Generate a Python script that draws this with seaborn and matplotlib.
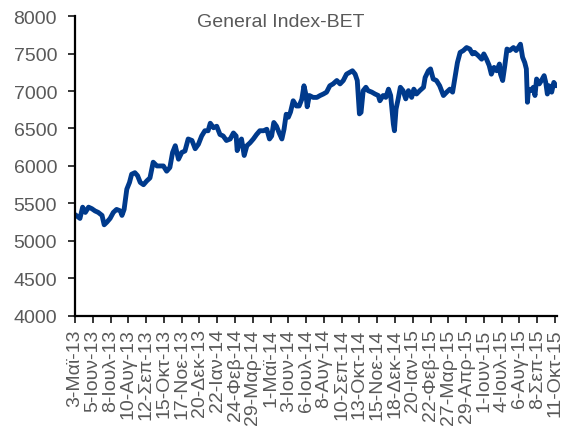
import matplotlib
matplotlib.use("Agg")
import matplotlib.pyplot as plt
import seaborn as sns
import pandas as pd

# BET index, values (days counted from 3 May 2013)
start_date = "2013-05-03"
days = [0, 2, 9, 14, 19, 25, 31, 37, 43, 50, 54, 59, 65, 71, 77, 84, 87, 91, 96,
        101, 105, 111, 116, 121, 127, 133, 139, 145, 152, 158, 164, 170, 176, 181,
        186, 192, 198, 204, 210, 217, 223, 229, 235, 241, 247, 251, 257, 263, 269,
        275, 281, 288, 294, 299, 301, 305, 309, 314, 319, 325, 331, 337, 343, 350,
        356, 361, 365, 369, 374, 379, 384, 388, 392, 396, 400, 405, 411, 416, 421,
        425, 429, 431, 435, 442, 449, 455, 461, 467, 473, 479, 486, 492, 498, 504,
        510, 515, 520, 524, 528, 531, 535, 540, 544, 551, 557, 563, 566, 572, 577,
        582, 586, 591, 593, 596, 600, 604, 609, 614, 619, 625, 629, 634, 640, 647,
        650, 656, 660, 665, 671, 677, 684, 690, 696, 701, 705, 710, 715, 721, 727,
        733, 738, 742, 749, 755, 759, 764, 769, 773, 778, 783, 788, 790, 794, 798,
        802, 807, 814, 819, 823, 827, 831, 835, 838, 840, 842, 846, 851, 854, 857,
        862, 866, 871, 874, 877, 880, 885, 889, 893]
bet = [5350, 5340, 5300, 5450, 5380, 5450, 5430, 5400, 5380, 5340, 5215, 5250,
       5300, 5380, 5420, 5400, 5340, 5420, 5690, 5780, 5890, 5910, 5870, 5780,
       5750, 5800, 5840, 6050, 6000, 6000, 6000, 5930, 5980, 6180, 6270, 6090,
       6180, 6200, 6360, 6340, 6230, 6290, 6400, 6470, 6470, 6570, 6510, 6530,
       6420, 6400, 6340, 6360, 6440, 6400, 6205, 6310, 6360, 6140, 6270, 6310,
       6360, 6420, 6470, 6470, 6490, 6360, 6400, 6580, 6530, 6440, 6360, 6490,
       6690, 6650, 6720, 6870, 6800, 6800, 6890, 7070, 6940, 6790, 6940, 6915,
       6915, 6940, 6960, 6985, 7070, 7095, 7140, 7095, 7140, 7225, 7250, 7270,
       7225, 7140, 6695, 6715, 7005, 7050, 7005, 6985, 6960, 6940, 6870, 6940,
       6915, 7025, 6940, 6560, 6470, 6760, 6895, 7050, 7005, 6895, 7005, 6915,
       7025, 6960, 7005, 7050, 7180, 7270, 7295, 7160, 7140, 7070, 6940, 6985,
       7025, 6985, 7160, 7380, 7515, 7540, 7580, 7560, 7495, 7515, 7470, 7425,
       7495, 7425, 7340, 7225, 7315, 7270, 7360, 7225, 7140, 7340, 7560, 7540,
       7580, 7540, 7580, 7625, 7450, 7380, 7295, 6850, 7025, 7005, 7050, 6940,
       7160, 7095, 7140, 7205, 7115, 6960, 7070, 6985, 7115, 7070]

tick_labels = ["3-Μαϊ-13", "5-Ιουν-13", "8-Ιουλ-13", "10-Αυγ-13", "12-Σεπ-13",
               "15-Οκτ-13", "17-Νοε-13", "20-Δεκ-13", "22-Ιαν-14", "24-Φεβ-14",
               "29-Μαρ-14", "1-Μαϊ-14", "3-Ιουν-14", "6-Ιουλ-14", "8-Αυγ-14",
               "10-Σεπ-14", "13-Οκτ-14", "15-Νοε-14", "18-Δεκ-14", "20-Ιαν-15",
               "22-Φεβ-15", "27-Μαρ-15", "29-Απρ-15", "1-Ιουν-15", "4-Ιουλ-15",
               "6-Αυγ-15", "8-Σεπ-15", "11-Οκτ-15"]
tick_step_days = 33

t0 = pd.Timestamp(start_date)
df = pd.DataFrame({"date": t0 + pd.to_timedelta(days, unit="D"), "BET": bet})

sns.set_style("ticks")
plt.rcParams['font.family'] = ['Liberation Sans', 'DejaVu Sans']

gray = "#595959"
fig = plt.figure(figsize=(5.69, 4.27), dpi=100)
ax = fig.add_axes([0.132, 0.258, 0.847, 0.702])

sns.lineplot(data=df, x="date", y="BET", ax=ax, color="#003A8C", linewidth=3.5)

ticks = [t0 + pd.Timedelta(days=tick_step_days * i) for i in range(len(tick_labels))]
ax.set_xticks(ticks)
ax.set_xticklabels(tick_labels, rotation=90, fontsize=14, color=gray)
ax.set_xlim(t0, t0 + pd.Timedelta(days=895))

ax.set_ylim(4000, 8000)
ax.set_yticks(range(4000, 8001, 500))
ax.tick_params(axis="y", labelsize=14, labelcolor=gray, length=5, width=1.3, pad=8)
ax.tick_params(axis="x", length=5, width=1.3, pad=4)

ax.set_xlabel("")
ax.set_ylabel("")
sns.despine(ax=ax)
for s in ["left", "bottom"]:
    ax.spines[s].set_linewidth(1.6)
    ax.spines[s].set_color("black")

ax.text(0.427, 0.966, "General Index-BET", transform=ax.transAxes,
        ha="center", va="baseline", fontsize=14, color=gray)

fig.savefig("out.png", dpi=100)
